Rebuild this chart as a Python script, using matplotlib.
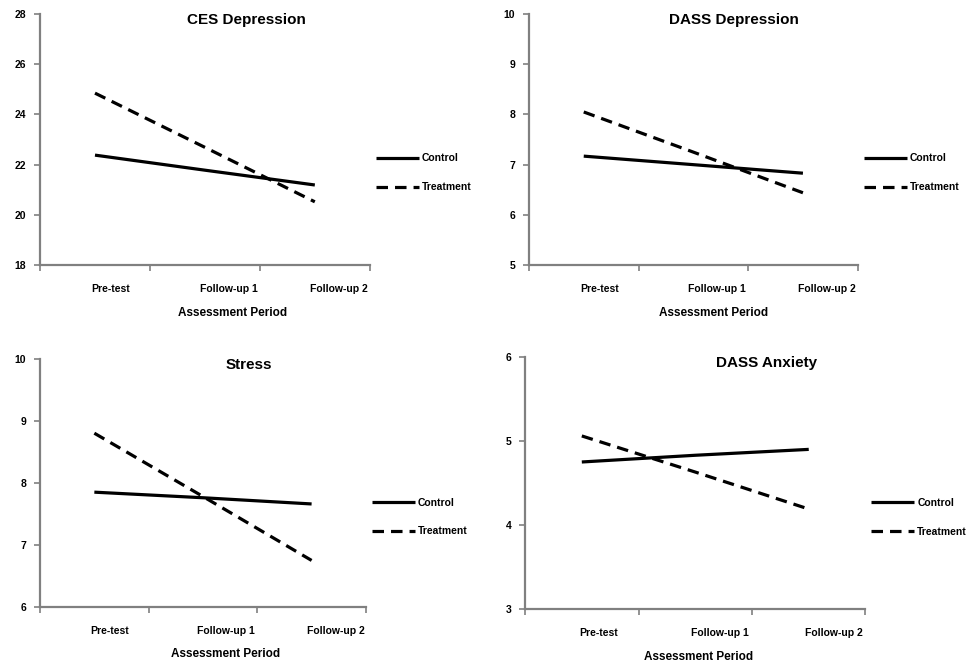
import matplotlib
matplotlib.use("Agg")
import matplotlib.pyplot as plt

plt.rcParams['font.family'] = ['Liberation Sans', 'DejaVu Sans']

# Data
periods = ['Pre-test', 'Follow-up 1', 'Follow-up 2']
groups = ['Control', 'Treatment']

titles = ['CES Depression', 'DASS Depression', 'Stress', 'DASS Anxiety']

ces_control = [22.38, 21.78, 21.19]
ces_treatment = [24.85, 22.69, 20.52]
dass_dep_control = [7.17, 7.00, 6.83]
dass_dep_treatment = [8.05, 7.25, 6.44]
stress_control = [7.85, 7.76, 7.66]
stress_treatment = [8.80, 7.78, 6.75]
dass_anx_control = [4.75, 4.83, 4.90]
dass_anx_treatment = [5.06, 4.63, 4.19]

y_ranges = [(18, 28, 2), (5, 10, 1), (6, 10, 1), (3, 6, 1)]

series = [(ces_control, ces_treatment), (dass_dep_control, dass_dep_treatment),
          (stress_control, stress_treatment), (dass_anx_control, dass_anx_treatment)]

# Layout in figure fractions
rects = [[0.0414, 0.605, 0.341, 0.374],
         [0.547, 0.605, 0.340, 0.374],
         [0.0414, 0.0954, 0.337, 0.370],
         [0.543, 0.0924, 0.352, 0.3756]]
title_x = [0.627, 0.623, 0.64, 0.71]
xlabel_x = [0.585, 0.56, 0.57, 0.51]
legend_y = [0.482, 0.482, 0.478, 0.478]

line_x = [0.5, 1.5, 2.5]
label_pos = [0.645, 1.715, 2.72]

fig = plt.figure(figsize=(9.67, 6.71), dpi=100)

for i in range(4):
    ax = fig.add_axes(rects[i])
    ctrl, trt = series[i]
    ax.plot(line_x, ctrl, color='black', lw=2.3, solid_capstyle='butt', label=groups[0])
    ax.plot(line_x, trt, color='black', lw=2.3, linestyle=(0, (3.6, 2.2)),
            dash_capstyle='butt', label=groups[1])

    lo, hi, step = y_ranges[i]
    ax.set_ylim(lo, hi)
    ax.set_yticks(range(lo, hi + 1, step))
    ax.set_xlim(0, 3)
    ax.set_xticks([0, 1, 2, 3])
    ax.set_xticklabels([])
    ax.set_xticks(label_pos, minor=True)
    ax.set_xticklabels(periods, minor=True)
    ax.tick_params(axis='x', which='minor', length=0, pad=14, labelsize=7.5)
    ax.tick_params(axis='x', which='major', length=4, width=1.2, color='#808080')
    ax.tick_params(axis='y', length=4, width=1.2, color='#808080', labelsize=7.5, pad=6)
    for lab in ax.get_xticklabels(minor=True) + ax.get_yticklabels():
        lab.set_fontweight('bold')

    for s in ['top', 'right']:
        ax.spines[s].set_visible(False)
    for s in ['left', 'bottom']:
        ax.spines[s].set_color('#808080')
        ax.spines[s].set_linewidth(1.6)

    ax.text(title_x[i], 0.975, titles[i], transform=ax.transAxes, ha='center', va='center',
            fontsize=11, fontweight='bold')
    ax.text(xlabel_x[i], -0.19, 'Assessment Period', transform=ax.transAxes,
            ha='center', va='center', fontsize=8.5, fontweight='bold')

    leg = ax.legend(loc='upper left', bbox_to_anchor=(0.99, legend_y[i]), frameon=False,
                    handlelength=4.1, handletextpad=0.3, labelspacing=1.8,
                    prop={'size': 7.5})
    for t in leg.get_texts():
        t.set_fontweight('bold')

fig.savefig('out.png', dpi=100)
